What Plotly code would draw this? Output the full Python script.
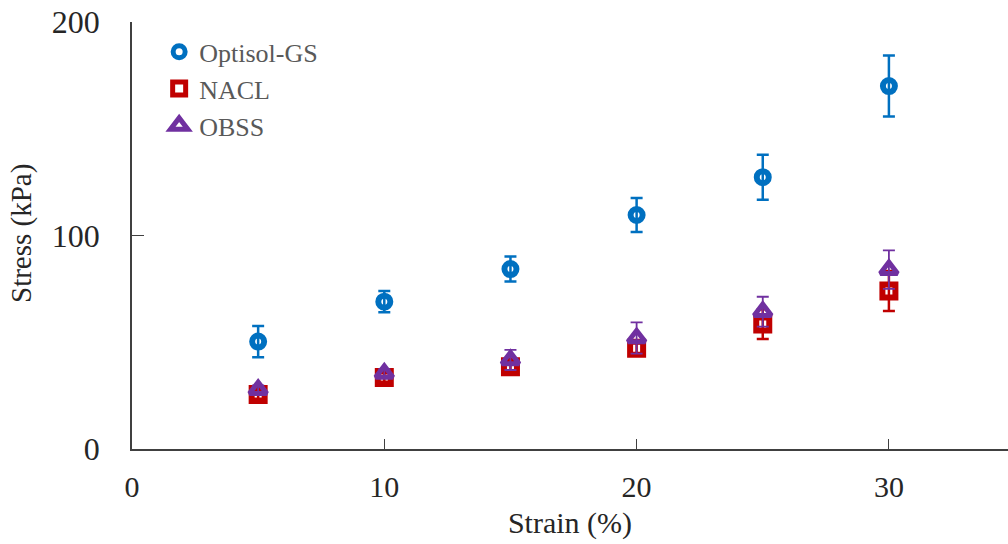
import plotly.graph_objects as go

# Strain levels (%)
strain = [5, 10, 15, 20, 25, 30]

# Mean stress (kPa) and standard deviation for each storage medium
optisol_mean = [50.3, 69.0, 84.3, 109.6, 127.3, 170.0]
optisol_sd = [7.3, 5.0, 5.9, 8.0, 10.5, 14.3]

nacl_mean = [25.5, 33.5, 38.5, 47.2, 58.5, 74.0]
nacl_sd = [2.0, 2.0, 2.5, 3.0, 7.0, 9.4]

obss_mean = [27.8, 35.4, 41.7, 52.0, 64.3, 84.0]
obss_sd = [2.0, 2.0, 4.7, 7.3, 7.0, 9.0]

series_names = ["Optisol-GS", "NACL", "OBSS"]

FONT = "Liberation Serif"
AXIS_COLOR = "#404040"
TEXT_COLOR = "#262626"

fig = go.Figure()

fig.add_trace(go.Scatter(
    x=strain, y=optisol_mean, name=series_names[0], mode="markers",
    marker=dict(symbol="circle-open", size=12, color="#0070C0",
                line=dict(width=6, color="#0070C0")),
    error_y=dict(type="data", array=optisol_sd, visible=True,
                 color="#0070C0", thickness=2.5, width=6),
))

fig.add_trace(go.Scatter(
    x=strain, y=nacl_mean, name=series_names[1], mode="markers",
    marker=dict(symbol="square-open", size=13, color="#C00000",
                line=dict(width=6, color="#C00000")),
    error_y=dict(type="data", array=nacl_sd, visible=True,
                 color="#C00000", thickness=2.5, width=6),
))

fig.add_trace(go.Scatter(
    x=strain, y=obss_mean, name=series_names[2], mode="markers",
    marker=dict(symbol="triangle-up-open", size=15, color="#7030A0",
                line=dict(width=5, color="#7030A0")),
    error_y=dict(type="data", array=obss_sd, visible=True,
                 color="#7030A0", thickness=1.8, width=6),
))

fig.update_layout(
    width=1008, height=544,
    margin=dict(l=132, r=0, t=22, b=95),
    paper_bgcolor="white", plot_bgcolor="white",
    font=dict(family=FONT, size=28, color=TEXT_COLOR),
    showlegend=True,
    legend=dict(
        x=0.031, y=0.985, xanchor="left", yanchor="top",
        bgcolor="rgba(0,0,0,0)",
        font=dict(family=FONT, size=26, color="#595959"),
        itemwidth=30, tracegroupgap=0,
    ),
    xaxis=dict(
        range=[0, 34.72], tickvals=[0, 10, 20, 30],
        showline=True, linecolor=AXIS_COLOR, linewidth=1.5,
        ticks="inside", ticklen=10, tickwidth=1, tickcolor=AXIS_COLOR,
        showgrid=False, zeroline=False,
        tickfont=dict(family=FONT, size=30, color=TEXT_COLOR),
        ticklabelstandoff=10,
        title=dict(text="Strain (%)", standoff=10,
                   font=dict(family=FONT, size=30, color=TEXT_COLOR)),
    ),
    yaxis=dict(
        range=[0, 200], tickvals=[0, 100, 200],
        showline=True, linecolor=AXIS_COLOR, linewidth=1.5,
        ticks="inside", ticklen=12, tickwidth=1, tickcolor=AXIS_COLOR,
        showgrid=False, zeroline=False,
        tickfont=dict(family=FONT, size=32, color=TEXT_COLOR),
        ticklabelstandoff=24,
    ),
)

# Vertical y-axis title placed close to the left edge
fig.add_annotation(
    text="Stress (kPa)", textangle=-90,
    xref="paper", yref="paper", x=-0.126, y=0.505,
    xanchor="center", yanchor="middle", showarrow=False,
    font=dict(family=FONT, size=29, color=TEXT_COLOR),
)

fig.write_html("out.html")
